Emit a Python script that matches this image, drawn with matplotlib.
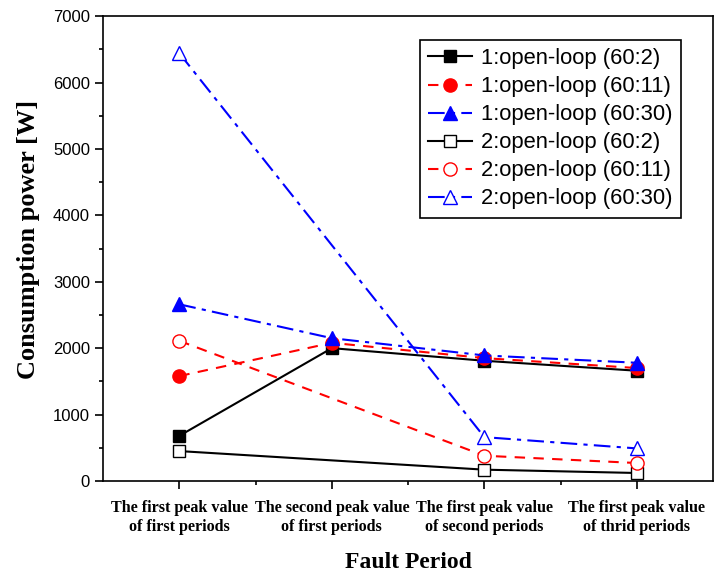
import matplotlib
matplotlib.use("Agg")
import matplotlib.pyplot as plt
from matplotlib.ticker import MultipleLocator, FixedLocator

categories = ["The first peak value\nof first periods",
              "The second peak value\nof first periods",
              "The first peak value\nof second periods",
              "The first peak value\nof thrid periods"]
x_all = [1, 2, 3, 4]
x_sub = [1, 3, 4]

s1_602 = [680, 2000, 1810, 1660]
s1_6011 = [1580, 2080, 1850, 1700]
s1_6030 = [2660, 2150, 1890, 1780]
s2_602 = [450, 170, 120]
s2_6011 = [2110, 380, 270]
s2_6030 = [6440, 660, 490]

labels = ["1:open-loop (60:2)", "1:open-loop (60:11)", "1:open-loop (60:30)",
          "2:open-loop (60:2)", "2:open-loop (60:11)", "2:open-loop (60:30)"]

fig = plt.figure(figsize=(7.16, 5.76), dpi=100)
ax = fig.add_axes([0.144, 0.165, 0.852, 0.807])

lw = 1.5
ms = 8.5
ax.plot(x_all, s1_602, color="black", ls="-", lw=lw, marker="s", ms=ms, mfc="black", mec="black", label=labels[0])
ax.plot(x_all, s1_6011, color="red", ls=(0, (5, 4)), lw=lw, marker="o", ms=ms+1, mfc="red", mec="red", label=labels[1])
ax.plot(x_all, s1_6030, color="blue", ls=(0, (8, 3, 2, 3)), lw=lw, marker="^", ms=ms+1, mfc="blue", mec="blue", label=labels[2])
ax.plot(x_sub, s2_602, color="black", ls="-", lw=lw, marker="s", ms=ms, mfc="white", mec="black", label=labels[3])
ax.plot(x_sub, s2_6011, color="red", ls=(0, (5, 4)), lw=lw, marker="o", ms=ms+1, mfc="white", mec="red", label=labels[4])
ax.plot(x_sub, s2_6030, color="blue", ls=(0, (8, 3, 2, 3)), lw=lw, marker="^", ms=ms+1, mfc="white", mec="blue", label=labels[5])

ax.set_xlim(0.5, 4.5)
ax.set_ylim(0, 7000)
ax.set_xticks(x_all)
ax.set_xticklabels(categories, fontfamily="Liberation Serif", fontweight="bold", fontsize=11.6,
                   linespacing=1.25)
ax.xaxis.set_minor_locator(FixedLocator([1.5, 2.5, 3.5]))
ax.yaxis.set_major_locator(MultipleLocator(1000))
ax.yaxis.set_minor_locator(MultipleLocator(500))
ax.tick_params(axis="both", which="major", direction="out", length=6, width=1.2)
ax.tick_params(axis="both", which="minor", direction="out", length=3, width=1.2)
ax.tick_params(axis="x", which="major", pad=8)
for lab in ax.get_yticklabels():
    lab.set_fontfamily("Liberation Sans")
    lab.set_fontsize(12)
for sp in ax.spines.values():
    sp.set_linewidth(1.2)

ax.set_ylabel("Consumption power [W]", fontfamily="Liberation Serif", fontweight="bold", fontsize=19)
ax.yaxis.set_label_coords(-0.103, 0.52)
ax.set_xlabel("Fault Period", fontfamily="Liberation Serif", fontweight="bold", fontsize=17, labelpad=12)

leg = ax.legend(loc="upper right", bbox_to_anchor=(0.947, 0.949), prop={"family": "Liberation Sans", "size": 15.8},
                frameon=True, fancybox=False, edgecolor="black", framealpha=1,
                handlelength=2.0, labelspacing=0.32, borderpad=0.38, handletextpad=0.4, borderaxespad=0)
leg.get_frame().set_linewidth(1.2)

fig.savefig("out.png", dpi=100)
